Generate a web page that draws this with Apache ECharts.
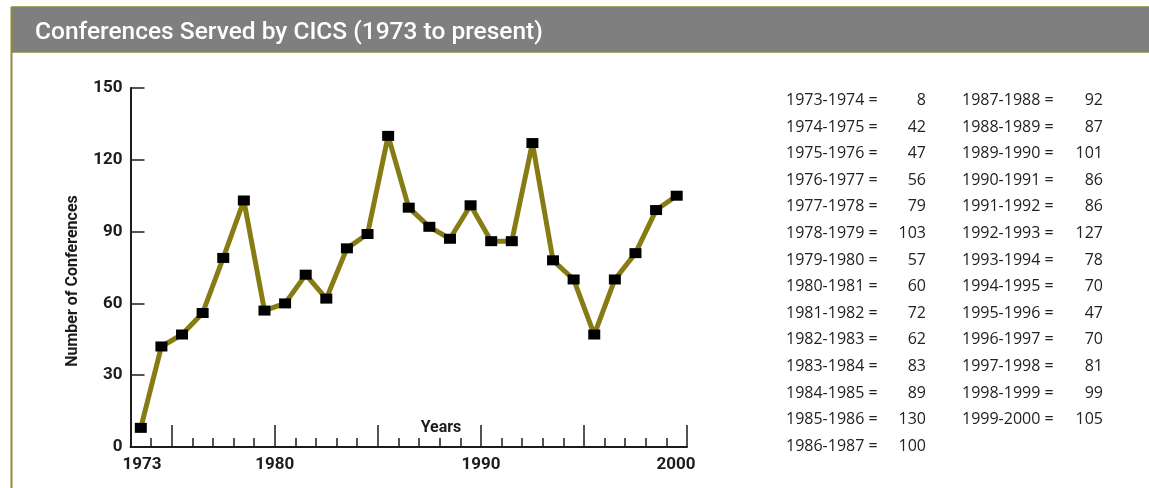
<!DOCTYPE html>
<html>
<head>
<meta charset="utf-8">
<title>Conferences Served by CICS</title>
<script src="https://cdn.jsdelivr.net/npm/echarts@6/dist/echarts.min.js"></script>
<style>
  html, body { margin: 0; padding: 0; background: #fff; }
  #chart { width: 1149px; height: 488px; }
</style>
</head>
<body>
<div id="chart"></div>
<script>
const startYears = [1973, 1974, 1975, 1976, 1977, 1978, 1979, 1980, 1981, 1982, 1983, 1984, 1985, 1986,
  1987, 1988, 1989, 1990, 1991, 1992, 1993, 1994, 1995, 1996, 1997, 1998, 1999]
const conferences = [8, 42, 47, 56, 79, 103, 57, 60, 72, 62, 83, 89, 130, 100,
  92, 87, 101, 86, 86, 127, 78, 70, 47, 70, 81, 99, 105]
const yearLabels = [1973, 1980, 1990, 2000]
const majorTicks = [1975, 1980, 1985, 1990, 1995, 2000]

const olive = '#877c14'
const ink = '#1c1c1c'
const axisFont = { fontFamily: 'Roboto', fontWeight: 'bold', fontSize: 17, color: ink }

// data points sit in the middle of each season (1973-1974 -> 1973.5)
const points = startYears.map((y, i) => [y + 0.5, conferences[i]])

// value table on the right, 14 rows in first column
const table = []
const rowsPerCol = 14
startYears.forEach((y, i) => {
  const col = Math.floor(i / rowsPerCol)
  const row = i % rowsPerCol
  const mid = 100.5 + row * 26.6
  const lx = col === 0 ? 786 : 962
  const vx = col === 0 ? 926 : 1103
  table.push({
    type: 'text', x: lx, y: mid,
    style: { text: y + '-' + (y + 1) + ' =', fontFamily: '"Open Sans", "Noto Sans", sans-serif', fontSize: 16, fill: '#222',
      align: 'left', verticalAlign: 'middle', textAlign: 'left', textVerticalAlign: 'middle' }
  })
  table.push({
    type: 'text', x: vx, y: mid,
    style: { text: String(conferences[i]), fontFamily: '"Open Sans", "Noto Sans", sans-serif', fontSize: 16, fill: '#222',
      align: 'right', verticalAlign: 'middle', textAlign: 'right', textVerticalAlign: 'middle' }
  })
})

const option = {
  backgroundColor: '#fff',
  animation: false,
  grid: { left: 130.5, right: 462, top: 88, bottom: 41, containLabel: false, outerBoundsMode: 'none' },
  xAxis: [{
    type: 'value', min: 1973, max: 2000, interval: 1,
    axisLine: { show: true, lineStyle: { color: ink, width: 2 } },
    axisTick: { show: true, inside: true, length: 9, lineStyle: { color: ink, width: 1.5 } },
    splitLine: { show: false },
    axisLabel: Object.assign({
      customValues: yearLabels,
      margin: 9,
      formatter: v => v === yearLabels[0] ? '{a|' + v + '}' : v === yearLabels[yearLabels.length - 1] ? '{b|' + v + '}' : '' + v,
      rich: {
        a: Object.assign({ padding: [0, 0, 0, 23] }, axisFont),
        b: Object.assign({ padding: [0, 22, 0, 0] }, axisFont)
      }
    }, axisFont)
  }, {
    type: 'value', min: 1973, max: 2000, position: 'bottom',
    axisLine: { show: false },
    axisTick: { show: true, inside: true, length: 22, customValues: majorTicks, lineStyle: { color: ink, width: 1.5 } },
    axisLabel: { show: false },
    splitLine: { show: false }
  }],
  yAxis: {
    type: 'value', min: 0, max: 150, interval: 30,
    axisLine: { show: true, lineStyle: { color: ink, width: 2 } },
    axisTick: { show: true, inside: true, length: 14, lineStyle: { color: ink, width: 1.5 } },
    splitLine: { show: false },
    axisLabel: Object.assign({ margin: 8 }, axisFont)
  },
  series: [{
    type: 'line',
    data: points,
    lineStyle: { color: olive, width: 5 },
    itemStyle: { color: '#000', borderWidth: 0 },
    symbol: 'rect',
    symbolSize: [12, 10],
    showSymbol: true,
    z: 3
  }],
  graphic: [
    // frame + title bar
    { type: 'line', shape: { x1: 11.5, y1: 7, x2: 11.5, y2: 488 }, style: { stroke: '#8d8a3c', lineWidth: 2 } },
    { type: 'rect', shape: { x: 12, y: 7, width: 1140, height: 45 }, style: { fill: '#7f7f7f', stroke: '#8d8a3c', lineWidth: 1.5 } },
    {
      type: 'text', x: 35, y: 33,
      style: { text: 'Conferences Served by CICS (1973 to present)', fontFamily: 'Roboto', fontWeight: 500, fontSize: 24.5, fill: '#fff',
        align: 'left', verticalAlign: 'middle', textAlign: 'left', textVerticalAlign: 'middle' }
    },
    {
      type: 'text', x: 441, y: 428,
      style: { text: 'Years', fontFamily: 'Roboto', fontWeight: 'bold', fontSize: 16, fill: ink,
        align: 'center', verticalAlign: 'middle', textAlign: 'center', textVerticalAlign: 'middle' }
    },
    {
      type: 'text', x: 73, y: 281, rotation: Math.PI / 2,
      style: { text: 'Number of Conferences', fontFamily: 'Roboto', fontWeight: 'bold', fontSize: 16, fill: ink,
        align: 'center', verticalAlign: 'middle', textAlign: 'center', textVerticalAlign: 'middle' }
    }
  ].concat(table)
}

const E = echarts.init(document.getElementById('chart'))
E.setOption(option)
</script>
</body>
</html>
